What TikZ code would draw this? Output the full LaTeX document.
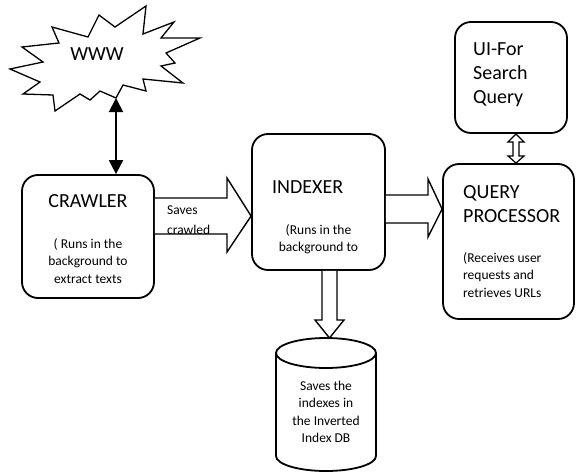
\documentclass[tikz,border=0pt]{standalone}
\usepackage{fontspec}
\setmainfont{Carlito}
\usepackage{tikz}
\usetikzlibrary{arrows.meta, calc}

\begin{document}
\begin{tikzpicture}[x=1pt, y=-1pt,
        box/.style={draw, line width=1.8pt, rounded corners=16pt, inner sep=0pt},
        bigtext/.style={font=\fontsize{20}{24}\selectfont, inner sep=0pt},
        smalltext/.style={font=\fontsize{13.5}{17.5}\selectfont, inner sep=0pt},
        fatarrow/.style={draw, line width=1.4pt, fill=white, line join=miter},
        wwwline/.style={line width=2pt, {Triangle[width=14pt,length=14pt]}-{Triangle[width=14pt,length=14pt]}}]
        \useasboundingbox (0,0) rectangle (576,474);

        % The web cloud
        \draw[line width=1.3pt, fill=white] (10,69) -- (43,62) -- (22,47) -- (59,43) -- (52,27) -- (88,37)
            -- (99,15) -- (115,27) -- (146,6) -- (143,34) -- (174,22) -- (161,38) -- (200,38)
            -- (166,53) -- (175,63) -- (161,66) -- (183,83) -- (143,79) -- (146,91) -- (123,85)
            -- (116,98) -- (100,91) -- (90,100) -- (80,94) -- (55,111) -- (53,95) -- (23,94)
            -- (40,82) -- cycle;
        \node[bigtext, anchor=base] (www) at (97,60) {WWW};
        \coordinate (wwwtip) at (116,98);

        % Boxes
        \node[box, minimum width=132pt, minimum height=123pt] (crawler) at (88,236.5) {};
        \node[box, minimum width=133pt, minimum height=136pt] (indexer) at (318.5,202) {};
        \node[box, minimum width=131pt, minimum height=155pt] (processor) at (508.5,241.5) {};
        \node[box, minimum width=112pt, minimum height=111pt] (ui) at (511,77.5) {};

        \node[bigtext, anchor=base] (crawlertitle) at (88,207) {CRAWLER};
        \node[smalltext, anchor=north, align=center] (crawlerinfo) at (88,238) {( Runs in the\\background to\\extract texts};
        \node[bigtext, anchor=base west] (indexertitle) at (272,193) {INDEXER};
        \node[smalltext, anchor=north, align=center] (indexerinfo) at (318.5,224) {(Runs in the\\background to};
        \node[bigtext, anchor=north west, align=left] (processortitle) at (463,185) {QUERY\\PROCESSOR};
        \node[smalltext, anchor=north west, align=left] (processorinfo) at (463,252) {(Receives user\\requests and\\retrieves URLs};
        \node[bigtext, anchor=north west, align=left] (uitext) at (473,42) {UI-For\\Search\\Query};

        % Inverted index DB
        \draw[line width=1.8pt] (276,353) -- (276,456) arc[start angle=180, end angle=0, x radius=50, y radius=15]
            -- (376,353) arc[start angle=0, end angle=-180, x radius=50, y radius=15] -- cycle;
        \draw[line width=1.8pt] (276,353) arc[start angle=180, end angle=0, x radius=50, y radius=15];
        \coordinate (dbtop) at (329.5,338);
        \node[smalltext, anchor=north, align=center] (db) at (326,380.5) {Saves the\\indexes in\\the Inverted\\Index DB};

        % Connections
        \draw[wwwline] (wwwtip) -- (wwwtip |- crawler.north);

        \draw[fatarrow] (crawler.east |- 0,198) -- (227,198) -- (227,178) -- (indexer.west |- 0,216)
            -- (227,252) -- (227,234) -- (crawler.east |- 0,234);
        \begin{scope}
            \clip (155,199) rectangle (226,233.5);
            \node[smalltext, font=\fontsize{13.5}{20}\selectfont, anchor=north west, align=left] (saves) at (167,205.5) {Saves\\crawled};
        \end{scope}

        \draw[fatarrow] (indexer.east |- 0,195) -- (428,195) -- (428,179) -- (processor.west |- 0,209)
            -- (428,237) -- (428,223) -- (indexer.east |- 0,223);

        \draw[fatarrow] (indexer.south -| 322,0) -- (322,320) -- (315,320) -- (dbtop)
            -- (344,320) -- (337,320) -- (indexer.south -| 337,0);

        \draw[fatarrow, line width=1.2pt] (ui.south -| 516,0) -- (524,142) -- (519,142) -- (519,156) -- (524,156)
            -- (processor.north -| 516,0) -- (508,156) -- (513,156) -- (513,142) -- (508,142) -- cycle;

\end{tikzpicture}
\end{document}
